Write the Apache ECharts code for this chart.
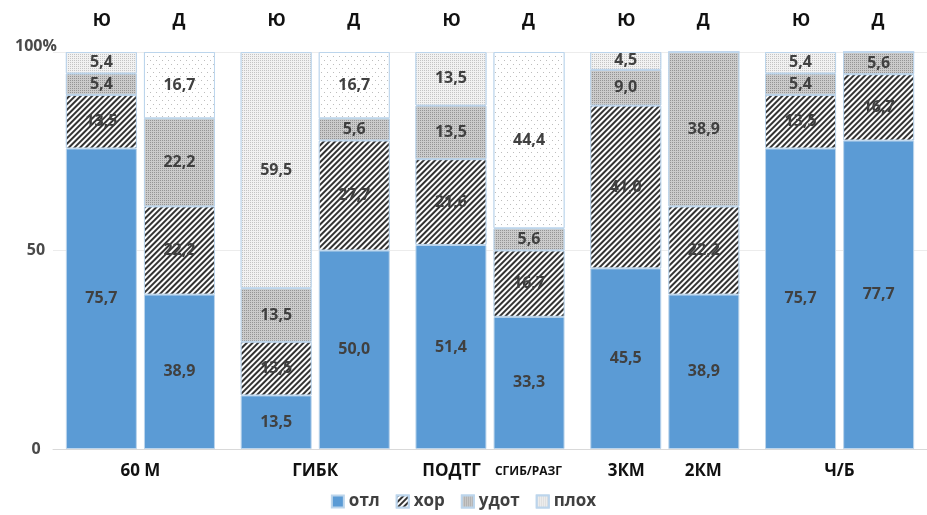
<!DOCTYPE html>
<html>
<head>
<meta charset="utf-8">
<script src="https://cdn.jsdelivr.net/npm/echarts@6/dist/echarts.min.js"></script>
<style>
  html, body { margin: 0; padding: 0; background: #fff; }
  #main { width: 927px; height: 515px; }
</style>
</head>
<body>
<div id="main"></div>
<script>
// группы (пары столбцов Ю / Д); у пары с двумя подписями — через "|"
var groups = ['60 М', 'ГИБК', 'ПОДТГ|СГИБ/РАЗГ', '3КМ|2КМ', 'Ч/Б']
var smallLabels = ['СГИБ/РАЗГ']
var gender = ['Ю', 'Д']
var grades = ['отл', 'хор', 'удот', 'плох']
var yTicks = ['0', '50', '100%']

// Ю
var boysOtl = [75.7, 13.5, 51.4, 45.5, 75.7]
var boysHor = [13.5, 13.5, 21.6, 41.0, 13.5]
var boysUdot = [5.4, 13.5, 13.5, 9.0, 5.4]
var boysPloh = [5.4, 59.5, 13.5, 4.5, 5.4]
// Д
var girlsOtl = [38.9, 50.0, 33.3, 38.9, 77.7]
var girlsHor = [22.2, 27.7, 16.7, 22.2, 16.7]
var girlsUdot = [22.2, 5.6, 5.6, 38.9, 5.6]
var girlsPloh = [16.7, 16.7, 44.4, 0, 0]

var font = 'Open Sans'
var border = '#bcd5ec'

// штриховки
var decals = {
  'отл': null,
  'хор': {
    symbol: 'rect', symbolSize: 1, color: '#333333', backgroundColor: '#ffffff',
    dashArrayX: [1, 0], dashArrayY: [2, 2], rotation: -Math.PI / 4
  },
  'удот': {
    symbol: 'rect', symbolSize: 1, color: '#959595', backgroundColor: '#cbcbcb',
    dashArrayX: [1, 1], dashArrayY: [1, 1]
  },
  'плохЮ': {
    symbol: 'rect', symbolSize: 1, color: '#c4c4c4', backgroundColor: '#f2f2f2',
    dashArrayX: [1, 1], dashArrayY: [1, 1]
  },
  'плохД': {
    symbol: 'rect', symbolSize: 1, color: '#bdbdbd', backgroundColor: '#ffffff',
    dashArrayX: [[1, 5], [0, 3, 1, 2]], dashArrayY: [1, 3]
  }
}
var fills = { 'отл': '#5b9bd5', 'хор': '#ffffff', 'удот': '#cbcbcb', 'плох': '#f2f2f2' }

function makeSeries(name, stack, data, decalKey) {
  var style = { color: fills[name], borderColor: border, borderWidth: 1 }
  if (decals[decalKey]) style.decal = decals[decalKey]
  return {
    name: name,
    type: 'bar',
    stack: stack,
    barWidth: 71,
    barGap: '10%',
    data: data,
    itemStyle: style,
    label: {
      show: true,
      position: 'inside',
      fontFamily: font,
      fontWeight: 'bold',
      fontSize: 16,
      color: '#404040',
      formatter: function (p) {
        return p.value ? p.value.toFixed(1).replace('.', ',') : ''
      }
    }
  }
}

var series = [
  makeSeries('отл', 'Ю', boysOtl, 'отл'),
  makeSeries('хор', 'Ю', boysHor, 'хор'),
  makeSeries('удот', 'Ю', boysUdot, 'удот'),
  makeSeries('плох', 'Ю', boysPloh, 'плохЮ'),
  makeSeries('отл', 'Д', girlsOtl, 'отл'),
  makeSeries('хор', 'Д', girlsHor, 'хор'),
  makeSeries('удот', 'Д', girlsUdot, 'удот'),
  makeSeries('плох', 'Д', girlsPloh, 'плохД')
]

function part(t) {
  return (smallLabels.indexOf(t) >= 0 ? '{s|' : '{a|') + t + '}'
}

var bigText = { fontFamily: font, fontWeight: 'bold', fontSize: 17, color: '#111' }

var myChart = echarts.init(document.getElementById('main'))
var option = {
  animation: false,
  grid: { left: 53, top: 52, width: 882, bottom: 66 },
  legend: {
    data: grades,
    bottom: 0,
    left: 'center',
    itemWidth: 12,
    itemHeight: 12,
    itemGap: 16,
    icon: 'rect',
    textStyle: { fontFamily: font, fontWeight: 'bold', fontSize: 17, color: '#404040' }
  },
  xAxis: [
    {
      type: 'category',
      data: groups,
      position: 'bottom',
      axisLine: { lineStyle: { color: '#d9d9d9' } },
      axisTick: { show: false },
      axisLabel: {
        margin: 14,
        interval: 0,
        formatter: function (v) {
          var parts = v.split('|')
          if (parts.length === 1) return '{c|' + v + '}'
          return part(parts[0]) + part(parts[1])
        },
        rich: {
          c: bigText,
          a: Object.assign({ width: 77, align: 'center' }, bigText),
          s: { fontFamily: font, fontWeight: 'bold', fontSize: 12, color: '#111', width: 77, align: 'center' }
        }
      }
    },
    {
      type: 'category',
      data: groups,
      position: 'top',
      axisLine: { show: false },
      axisTick: { show: false },
      axisLabel: {
        margin: 22,
        interval: 0,
        formatter: function () {
          return '{a|' + gender[0] + '}{a|' + gender[1] + '}'
        },
        rich: {
          a: Object.assign({ width: 77, align: 'center' }, bigText)
        }
      }
    }
  ],
  yAxis: {
    type: 'value',
    min: 0,
    max: 100,
    interval: 50,
    axisLine: { show: false },
    axisTick: { show: false },
    splitLine: { lineStyle: { color: '#ececec' } },
    axisLabel: {
      margin: 17,
      align: 'center',
      formatter: function (v) {
        var t = yTicks[v / 50]
        return v === 100 ? '{t|' + t + '}' : '{n|' + t + '}'
      },
      rich: {
        n: { fontFamily: font, fontWeight: 'bold', fontSize: 16, color: '#4a4a4a' },
        t: { fontFamily: font, fontWeight: 'bold', fontSize: 16, color: '#4a4a4a', padding: [0, 0, 12, 0] }
      }
    }
  },
  series: series
}
myChart.setOption(option)
</script>
</body>
</html>
